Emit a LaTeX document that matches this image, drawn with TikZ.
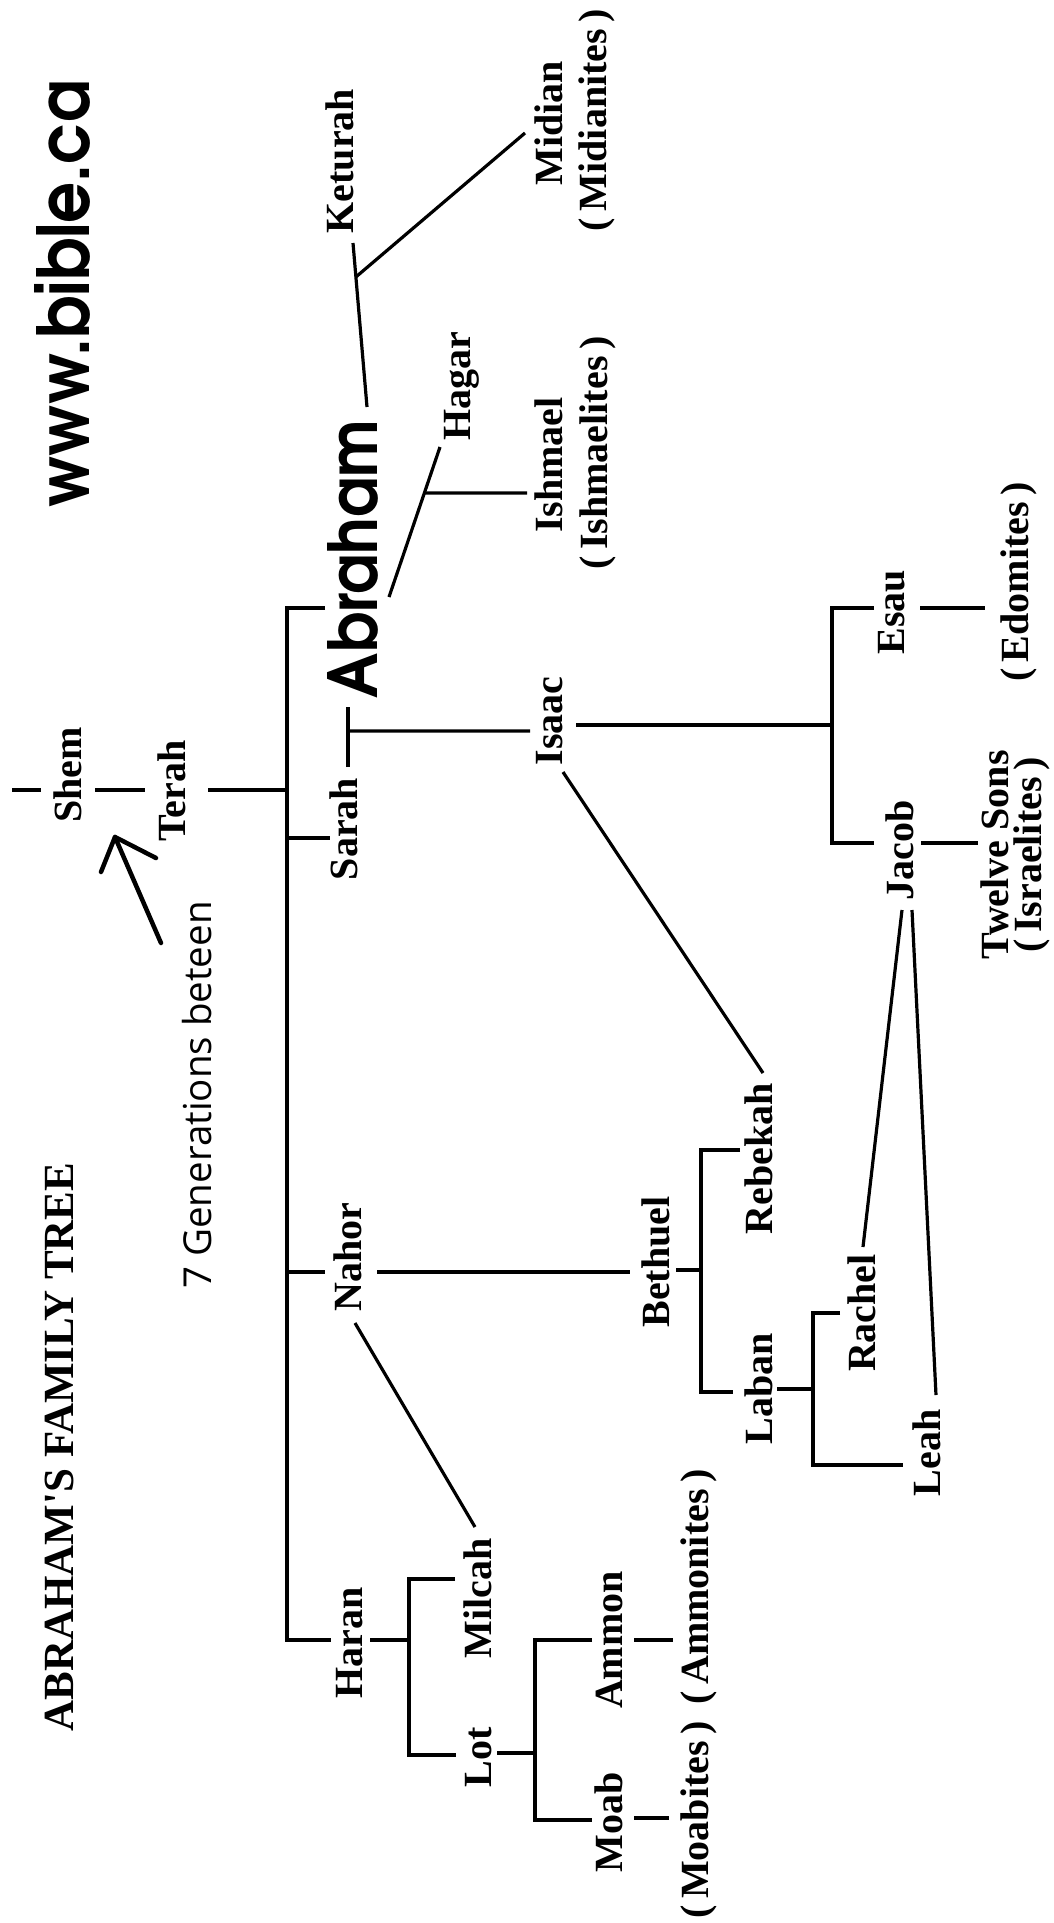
\documentclass[tikz,border=0pt]{standalone}
\usepackage{fontspec}
\usepackage{graphicx}
\setmainfont{Liberation Serif}
\newfontfamily\gensans{Open Sans}
\newfontfamily\geo{texgyreadventor-bold.otf}
\usetikzlibrary{calc}
\newcommand\nmf{\fontsize{40}{44}\selectfont\bfseries}
\begin{document}
\begin{tikzpicture}[x=1pt,y=-1pt,
  rot/.style={rotate=90,anchor=base,inner sep=0pt},
  nm/.style={rot,font=\nmf},
  ln/.style={line width=3.2pt},
  arr/.style={line width=4.5pt,line cap=round,line join=round}]
\fill[white] (0,0) rectangle (1053,1923);
\useasboundingbox (0,0) rectangle (1053,1923);

% texts
\node[rot] (www) at (89,294) {\resizebox{427pt}{55pt}{\geo www.bible.ca}};
\node[rot,font=\fontsize{43}{46}\selectfont\bfseries] (title) at (73,1447) {ABRAHAM\textquotesingle S FAMILY TREE};
\node[rot,font=\gensans\fontsize{38.5}{40}\selectfont] (gen) at (211,1095) {7 Generations beteen};
\node[rot] (abraham) at (377,559) {\resizebox{278pt}{50pt}{\geo Abraham}};
\node[nm] (shem) at (81,775) {Shem};
\node[nm] (terah) at (185,791) {Terah};
\node[nm] (keturah) at (353,161) {Keturah};
\node[nm] (midian) at (562,123) {Midian};
\node[nm] (midianites) at (606,120) {(\,Midianites\,)};
\node[nm] (hagar) at (470,386) {Hagar};
\node[nm] (ishmael) at (562,465) {Ishmael};
\node[nm] (ishmaelites) at (607,453) {(\,Ishmaelites\,)};
\node[nm] (sarah) at (357,829) {Sarah};
\node[nm] (isaac) at (562,721) {Isaac};
\node[nm] (esau) at (904,612) {Esau};
\node[nm] (edomites) at (1028,582) {(\,Edomites\,)};
\node[nm] (jacob) at (913,850) {Jacob};
\node[nm] (twelve) at (1008,855) {Twelve Sons};
\node[nm] (israelites) at (1041,855) {(\,Israelites\,)};
\node[nm] (nahor) at (361,1257) {Nahor};
\node[nm] (bethuel) at (669,1262) {Bethuel};
\node[nm] (rebekah) at (772,1159) {Rebekah};
\node[nm] (laban) at (772,1389) {Laban};
\node[nm] (rachel) at (875,1313) {Rachel};
\node[nm] (leah) at (940,1453) {Leah};
\node[nm] (haran) at (362,1643) {Haran};
\node[nm] (milcah) at (491,1598) {Milcah};
\node[nm] (lot) at (491,1757) {Lot};
\node[nm] (ammon) at (622,1640) {Ammon};
\node[nm] (ammonites) at (708,1587) {(\,Ammonites\,)};
\node[nm] (moab) at (622,1822) {Moab};
\node[nm] (moabites) at (708,1820) {(\,Moabites\,)};

% Shem - Terah
\coordinate (shemtick) at (12,790);
\draw[ln] (shemtick) -- ($(shem.base)+(-40,15)$);
\draw[ln] ($(shem.base)+(14,15)$) -- ($(terah.base)+(-40,-1)$);
\coordinate (tj) at (287,790);
\draw[ln] ($(terah.base)+(23,-1)$) -- (tj);
\coordinate (aA) at ($(abraham.base)+(-52,49)$);
\coordinate (sA) at ($(sarah.base)+(-27,9)$);
\coordinate (nA) at ($(nahor.base)+(-36,15)$);
\coordinate (hA) at ($(haran.base)+(-31,-3)$);
\draw[ln] (aA) -- (aA -| tj) -- (hA -| tj) -- (hA);
\draw[ln] (sA -| tj) -- (sA);
\draw[ln] (nA -| tj) -- (nA);

% Sarah - Abraham - Isaac
\coordinate (sB) at ($(sarah.base)+(-9,-62)$);
\coordinate (aB) at ($(abraham.base)+(-29,148)$);
\draw[ln] (sB) -- (aB);
\coordinate (sa) at ($(sB)!0.6!(aB)$);
\draw[ln] (sa) -- ($(isaac.base)+(-32,10)$);
\coordinate (ij) at (832,725);
\draw[ln] ($(isaac.base)+(14,4)$) -- (ij);
\coordinate (eA) at ($(esau.base)+(-30,-4)$);
\coordinate (jA) at ($(jacob.base)+(-39,-7)$);
\draw[ln] (eA) -- (eA -| ij) -- (jA -| ij) -- (jA);
\draw[ln] ($(esau.base)+(16,-4)$) -- ($(edomites.base)+(-43,26)$);
\draw[ln] ($(jacob.base)+(8,-7)$) -- ($(twelve.base)+(-30,-12)$);
\draw[ln] ($(isaac.base)+(1,51)$) -- ($(rebekah.base)+(-9,-86)$);

% Keturah
\coordinate (kB) at ($(abraham.base)+(-10,-152)$);
\coordinate (kA) at ($(keturah.base)+(0,82)$);
\draw[ln] (kB) -- (kA);
\coordinate (kj) at ($(kA)!0.207!(kB)$);
\draw[ln] (kj) -- ($(midian.base)+(-37,10)$);

% Hagar
\coordinate (hgA) at ($(hagar.base)+(-30,61)$);
\coordinate (hgB) at ($(abraham.base)+(12,38)$);
\draw[ln] (hgA) -- (hgB);
\coordinate (hj) at ($(hgA)!0.307!(hgB)$);
\draw[ln] (hj) -- ($(ishmael.base)+(-35,28)$);

% Nahor
\draw[ln] ($(nahor.base)+(16,15)$) -- ($(bethuel.base)+(-39,10)$);
\draw[ln] ($(nahor.base)+(-6,66)$) -- ($(milcah.base)+(-16,-71)$);
\coordinate (bj) at (701,1270);
\draw[ln] ($(bethuel.base)+(7,8)$) -- (bj);
\coordinate (rA) at ($(rebekah.base)+(-32,-9)$);
\coordinate (lA) at ($(laban.base)+(-39,3)$);
\draw[ln] (rA) -- (rA -| bj) -- (lA -| bj) -- (lA);
\coordinate (lj) at (813,1389);
\draw[ln] ($(laban.base)+(5,0)$) -- (lj);
\coordinate (rcA) at ($(rachel.base)+(-35,0)$);
\coordinate (leA) at ($(leah.base)+(-37,12)$);
\draw[ln] (rcA) -- (rcA -| lj) -- (leA -| lj) -- (leA);
\draw[ln] ($(rachel.base)+(-12,-66)$) -- ($(jacob.base)+(-11,60)$);
\draw[ln] ($(leah.base)+(-4,-58)$) -- ($(jacob.base)+(-1,60)$);

% Haran
\coordinate (hrj) at (409,1640);
\draw[ln] ($(haran.base)+(8,-3)$) -- (hrj);
\coordinate (mA) at ($(milcah.base)+(-36,-19)$);
\coordinate (ltA) at ($(lot.base)+(-35,-2)$);
\draw[ln] (mA) -- (mA -| hrj) -- (ltA -| hrj) -- (ltA);
\coordinate (ltj) at (535,1753);
\draw[ln] ($(lot.base)+(6,-4)$) -- (ltj);
\coordinate (amA) at ($(ammon.base)+(-30,0)$);
\coordinate (moA) at ($(moab.base)+(-30,-2)$);
\draw[ln] (amA) -- (amA -| ltj) -- (moA -| ltj) -- (moA);
\draw[ln] ($(ammon.base)+(12,0)$) -- ($(ammonites.base)+(-35,53)$);
\draw[ln] ($(moab.base)+(12,-4)$) -- ($(moabites.base)+(-39,-2)$);

% arrow
\coordinate (arrowtip) at (115,837);
\draw[arr] ($(gen.base)+(-50,-152)$) -- (arrowtip);
\draw[arr] ($(arrowtip)+(-14,35)$) -- (arrowtip) -- ($(arrowtip)+(41,21)$);
\end{tikzpicture}
\end{document}
